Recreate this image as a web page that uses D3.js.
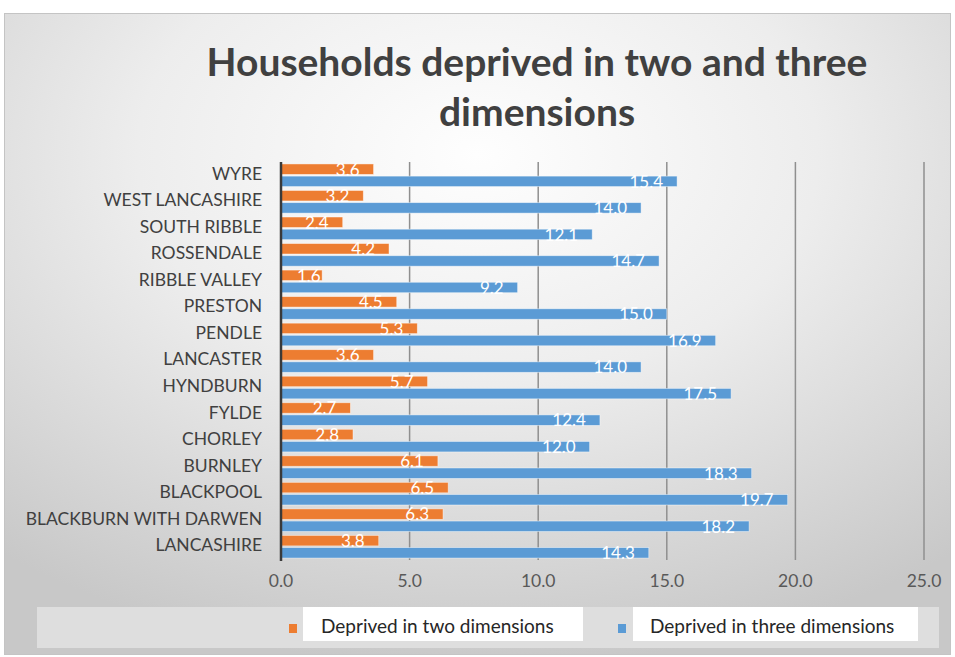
<!DOCTYPE html>
<html>
<head>
<meta charset="utf-8">
<script src="https://cdn.jsdelivr.net/npm/d3@7"></script>
<style>
  html, body { margin: 0; padding: 0; background: #fff; }
  svg { display: block; font-family: Lato, "Open Sans", sans-serif; }
</style>
</head>
<body>
<svg id="chart" width="955" height="657"></svg>
<script>
// Districts, top to bottom
const districts = ["WYRE", "WEST LANCASHIRE", "SOUTH RIBBLE", "ROSSENDALE", "RIBBLE VALLEY",
  "PRESTON", "PENDLE", "LANCASTER", "HYNDBURN", "FYLDE", "CHORLEY", "BURNLEY",
  "BLACKPOOL", "BLACKBURN WITH DARWEN", "LANCASHIRE"];
const twoDims   = [3.6, 3.2, 2.4, 4.2, 1.6, 4.5, 5.3, 3.6, 5.7, 2.7, 2.8, 6.1, 6.5, 6.3, 3.8];
const threeDims = [15.4, 14.0, 12.1, 14.7, 9.2, 15.0, 16.9, 14.0, 17.5, 12.4, 12.0, 18.3, 19.7, 18.2, 14.3];
const xTicks = [0, 5, 10, 15, 20, 25];
const seriesNames = ["Deprived in two dimensions", "Deprived in three dimensions"];
const seriesColors = ["#ED7D31", "#5B9BD5"];

const svg = d3.select("#chart");
const defs = svg.append("defs");

// Soft grey radial backdrop
const grad = defs.append("radialGradient").attr("id", "bg")
  .attr("cx", "50%").attr("cy", "22%").attr("r", "80%");
grad.append("stop").attr("offset", "0%").attr("stop-color", "#fefefe");
grad.append("stop").attr("offset", "45%").attr("stop-color", "#ededed");
grad.append("stop").attr("offset", "100%").attr("stop-color", "#c8c8c8");

svg.append("rect").attr("x", 4.5).attr("y", 13.5).attr("width", 946).attr("height", 641)
  .attr("fill", "url(#bg)").attr("stroke", "#c4c4c4").attr("stroke-width", 1);

// Title
const title = svg.append("text").attr("text-anchor", "middle")
  .attr("fill", "#404040").attr("font-weight", 700);
title.append("tspan").attr("x", 537).attr("y", 76).text("Households deprived in two and three");
title.append("tspan").attr("x", 537).attr("y", 126).text("dimensions");
{
  let fs = 36;
  title.attr("font-size", fs);
  const w = title.select("tspan").node().getComputedTextLength();
  fs = fs * 661 / w;
  title.attr("font-size", fs);
}

// Scales
const x = d3.scaleLinear().domain([0, 25]).range([281, 924]);
const y = d3.scaleBand().domain(districts).range([162, 560]);
const inner = d3.scaleBand().domain([0, 1]).range([0, y.bandwidth()]).paddingInner(0.14).paddingOuter(0.16);

// Gridlines
svg.append("g").selectAll("line").data(xTicks.filter(d => d > 0)).join("line")
  .attr("x1", d => x(d)).attr("x2", d => x(d))
  .attr("y1", 162).attr("y2", 560)
  .attr("stroke", "#8f8f8f").attr("stroke-width", 1.5);

// Bars
const series = [twoDims, threeDims];
const rows = svg.append("g").selectAll("g").data(districts).join("g")
  .attr("transform", d => `translate(0,${y(d)})`);

series.forEach((vals, si) => {
  rows.append("rect")
    .attr("x", x(0))
    .attr("y", inner(si))
    .attr("width", (d, i) => x(vals[i]) - x(0))
    .attr("height", inner.bandwidth())
    .attr("fill", seriesColors[si])
    .attr("stroke", "rgba(255,255,255,0.55)").attr("stroke-width", 0.8);
});

// Value labels near the end of each bar
series.forEach((vals, si) => {
  rows.append("text")
    .attr("y", inner(si) + inner.bandwidth() / 2 + 2)
    .attr("dominant-baseline", "middle")
    .attr("text-anchor", "end")
    .attr("font-size", 17).attr("fill", "#fff")
    .text((d, i) => vals[i].toFixed(1))
    .each(function (d, i) {
      const w = this.getComputedTextLength();
      const end = Math.max(x(vals[i]) - 14, x(0) + w + 16);
      d3.select(this).attr("x", end);
    });
});

// Value axis baseline
svg.append("line").attr("x1", x(0)).attr("x2", x(0)).attr("y1", 162).attr("y2", 561)
  .attr("stroke", "#3a3a3a").attr("stroke-width", 2.5);

// Category labels
svg.append("g").selectAll("text").data(districts).join("text")
  .attr("x", 262).attr("y", d => y(d) + y.bandwidth() / 2)
  .attr("dominant-baseline", "middle").attr("text-anchor", "end")
  .attr("font-size", 17.5).attr("fill", "#404040")
  .text(d => d);

// Tick labels
svg.append("g").selectAll("text").data(xTicks).join("text")
  .attr("x", d => x(d)).attr("y", 583)
  .attr("dominant-baseline", "middle").attr("text-anchor", "middle")
  .attr("font-size", 17.5).attr("fill", "#595959")
  .text(d => d.toFixed(1));

// Legend
svg.append("rect").attr("x", 37).attr("y", 607).attr("width", 902).attr("height", 41)
  .attr("fill", "#dedede");
const legendBoxes = [[303, 280], [633, 285]];
const legendText = [321, 650];
const legendSwatch = [289, 618];
seriesNames.forEach((name, i) => {
  svg.append("rect").attr("x", legendBoxes[i][0]).attr("y", 607)
    .attr("width", legendBoxes[i][1]).attr("height", 34).attr("fill", "#fff");
  svg.append("rect").attr("x", legendSwatch[i]).attr("y", 624)
    .attr("width", 8).attr("height", 9).attr("fill", seriesColors[i]);
  svg.append("text").attr("x", legendText[i]).attr("y", 628)
    .attr("dominant-baseline", "middle").attr("font-size", 19).attr("fill", "#262626")
    .text(name);
});
</script>
</body>
</html>
